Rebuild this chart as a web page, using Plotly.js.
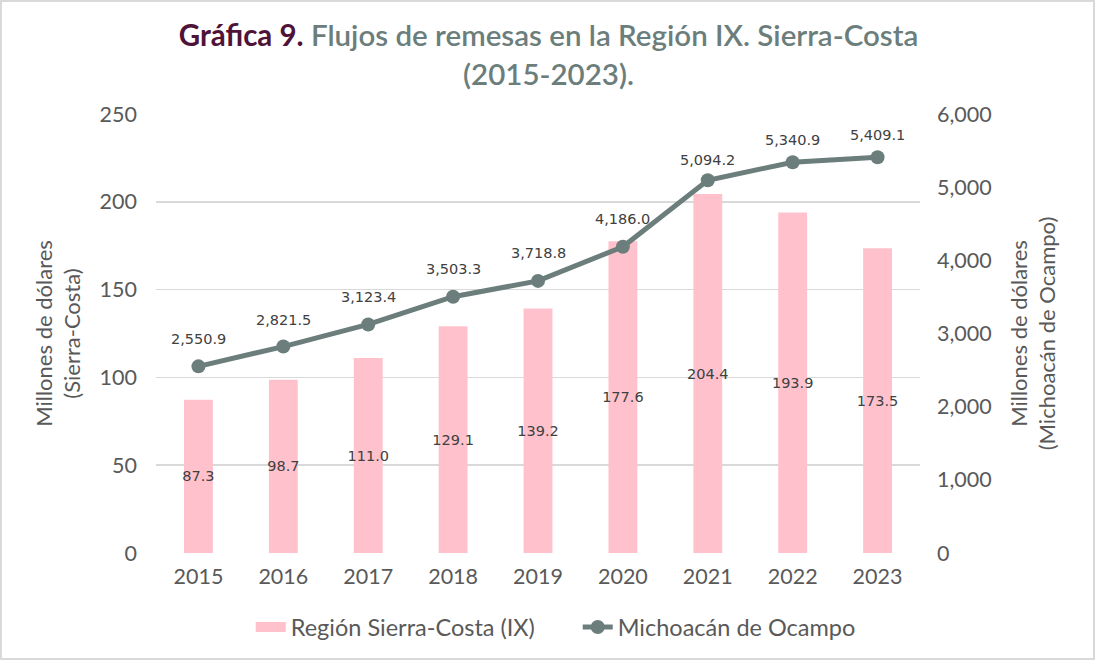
<!DOCTYPE html>
<html>
<head>
<meta charset="utf-8">
<script src="https://cdn.plot.ly/plotly-3.0.1.min.js"></script>
<style>
  html, body { margin: 0; padding: 0; background: #ffffff; }
  #wrap { position: relative; width: 1097px; height: 662px; }
  #chart { width: 1097px; height: 662px; }
  #frame { position: absolute; left: 0; top: 0; width: 1095px; height: 660px; box-sizing: border-box;
           border: 2px solid #d9d9d9; pointer-events: none; }
</style>
</head>
<body>
<div id="wrap">
  <div id="chart"></div>
  <div id="frame"></div>
</div>
<script>
const years = ['2015', '2016', '2017', '2018', '2019', '2020', '2021', '2022', '2023'];
const regionSierraCosta = [87.3, 98.7, 111.0, 129.1, 139.2, 177.6, 204.4, 193.9, 173.5];
const michoacan = [2550.9, 2821.5, 3123.4, 3503.3, 3718.8, 4186.0, 5094.2, 5340.9, 5409.1];
const seriesNames = ['Región Sierra-Costa (IX)', 'Michoacán de Ocampo'];
const leftTicks = [0, 50, 100, 150, 200, 250];
const rightTicks = [0, 1000, 2000, 3000, 4000, 5000, 6000];

// style: vertical offset (px) of each line label above its point
const lineLabelShift = [27, 27, 27, 28, 28, 28, 20, 22, 22];

const tickColor = '#595959';
const labelColor = '#404040';
const pink = '#ffc2cd';
const slate = '#6b7e7b';

const traces = [
  {
    type: 'bar',
    name: seriesNames[0],
    x: years,
    y: regionSierraCosta,
    marker: { color: pink },
    width: 0.34,
    texttemplate: '%{y:.1f}',
    textposition: 'inside',
    insidetextanchor: 'middle',
    textangle: 0,
    constraintext: 'none',
    textfont: { family: 'DejaVu Sans', size: 14.5, color: labelColor },
    showlegend: false
  },
  {
    // legend swatch for the bar series (no data drawn)
    type: 'scatter',
    mode: 'lines',
    name: seriesNames[0],
    x: [years[0]],
    y: [null],
    line: { color: pink, width: 10 },
    showlegend: true,
    legendrank: 1
  },
  {
    type: 'scatter',
    mode: 'lines+markers',
    name: seriesNames[1],
    x: years,
    y: michoacan,
    yaxis: 'y2',
    line: { color: slate, width: 5 },
    marker: { color: slate, size: 14 },
    cliponaxis: false,
    legendrank: 2
  }
];

const annotations = years.map((yr, i) => ({
  x: i,
  y: michoacan[i],
  xref: 'x',
  yref: 'y2',
  text: michoacan[i].toLocaleString('en-US', { minimumFractionDigits: 1, maximumFractionDigits: 1 }),
  showarrow: false,
  yshift: lineLabelShift[i],
  font: { family: 'DejaVu Sans', size: 14.5, color: labelColor }
}));

const layout = {
  width: 1097,
  height: 662,
  paper_bgcolor: '#ffffff',
  plot_bgcolor: '#ffffff',
  margin: { l: 156, r: 177, t: 114, b: 109 },
  font: { family: 'Lato, sans-serif', color: tickColor },
  title: {
    text: "<b><span style='color:#4f1238'>Gráfica 9.</span></b> Flujos de remesas en la Región IX. Sierra-Costa<br>(2015-2023).",
    font: { family: 'Lato, sans-serif', size: 29.5, color: slate, weight: 600 },
    x: 0.5, xref: 'container', xanchor: 'center',
    y: 0.93, yref: 'container', yanchor: 'top'
  },
  xaxis: {
    type: 'category',
    categoryorder: 'array',
    categoryarray: years,
    range: [-0.5, years.length - 0.5],
    showgrid: false,
    zeroline: false,
    showline: false,
    ticks: '',
    tickfont: { size: 21.5, color: tickColor },
    ticklabelstandoff: 8
  },
  yaxis: {
    range: [0, 250],
    tickvals: leftTicks,
    showgrid: true,
    gridcolor: '#d9d9d9',
    gridwidth: 1.5,
    zeroline: false,
    showline: false,
    ticks: '',
    tickfont: { size: 21.5, color: tickColor },
    ticklabelstandoff: 18,
    title: {
      text: 'Millones de dólares<br>(Sierra-Costa)',
      font: { size: 22, color: tickColor },
      standoff: 12
    }
  },
  yaxis2: {
    overlaying: 'y',
    side: 'right',
    range: [0, 6000],
    tickvals: rightTicks,
    tickformat: ',',
    showgrid: false,
    zeroline: false,
    showline: false,
    ticks: '',
    tickfont: { size: 21.5, color: tickColor },
    ticklabelstandoff: 16,
    title: {
      text: 'Millones de dólares<br>(Michoacán de Ocampo)',
      font: { size: 22, color: tickColor },
      standoff: 20
    }
  },
  annotations: annotations,
  showlegend: true,
  legend: {
    orientation: 'h',
    x: 0.552, xanchor: 'center',
    y: -0.169, yanchor: 'middle',
    font: { size: 23.5, color: tickColor },
    itemwidth: 30,
    tracegroupgap: 0,
    entrywidth: 282,
    entrywidthmode: 'pixels',
    traceorder: 'normal',
    bgcolor: 'rgba(0,0,0,0)'
  },
  bargap: 0.66
};

Plotly.newPlot('chart', traces, layout, { displayModeBar: false, staticPlot: true });
</script>
</body>
</html>
